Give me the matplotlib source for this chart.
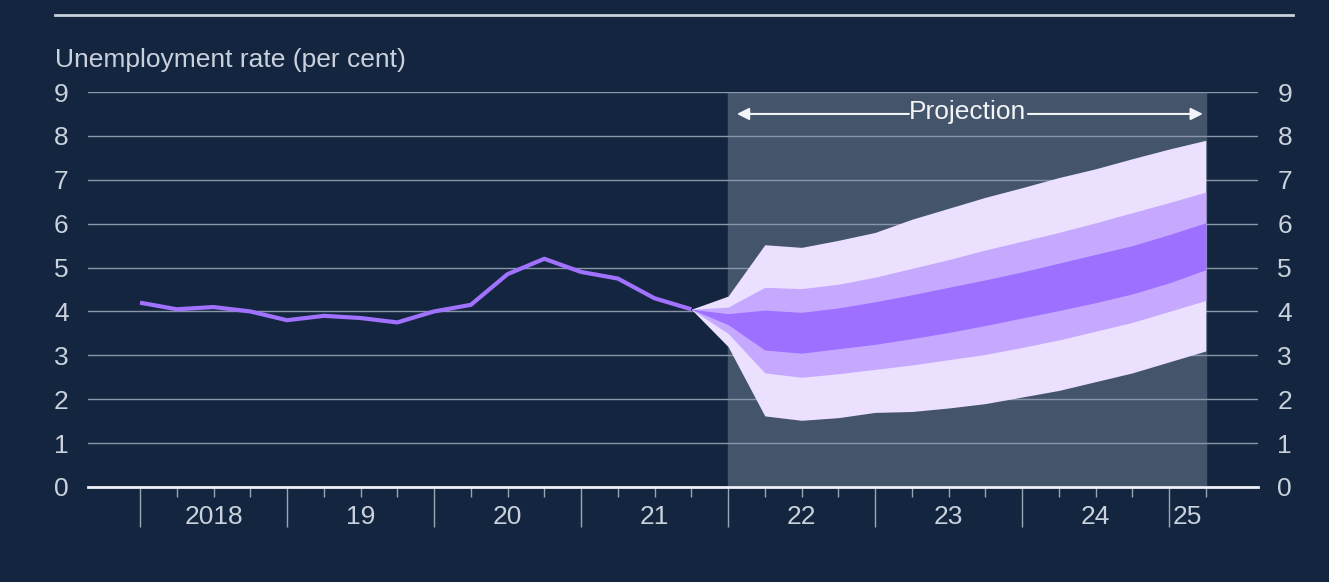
import numpy as np
import matplotlib
matplotlib.use('Agg')
import matplotlib.pyplot as plt
from matplotlib.lines import Line2D
import matplotlib.transforms as mtransforms

plt.rcParams['font.family'] = ['Liberation Sans', 'DejaVu Sans']

# datos historicos (trimestrales)
hist_x = [2018.0, 2018.25, 2018.5, 2018.75, 2019.0, 2019.25, 2019.5, 2019.75,
          2020.0, 2020.25, 2020.5, 2020.75, 2021.0, 2021.25, 2021.5, 2021.75]
hist_y = [4.2, 4.05, 4.1, 4.0, 3.8, 3.9, 3.85, 3.75,
          4.0, 4.15, 4.85, 5.2, 4.9, 4.75, 4.3, 4.05]

# abanico de proyeccion
fan_x = [2021.75, 2022.0, 2022.25, 2022.5, 2022.75, 2023.0, 2023.25, 2023.5,
         2023.75, 2024.0, 2024.25, 2024.5, 2024.75, 2025.0, 2025.25]
outer_hi = [4.05, 4.35, 5.52, 5.46, 5.62, 5.80, 6.10, 6.35, 6.60, 6.82, 7.05, 7.25, 7.48, 7.70, 7.90]
mid_hi = [4.05, 4.10, 4.55, 4.52, 4.62, 4.78, 4.98, 5.18, 5.40, 5.60, 5.80, 6.02, 6.25, 6.48, 6.72]
dark_hi = [4.05, 3.95, 4.03, 3.98, 4.08, 4.22, 4.38, 4.55, 4.72, 4.90, 5.10, 5.30, 5.50, 5.75, 6.02]
dark_lo = [4.05, 3.70, 3.12, 3.05, 3.15, 3.25, 3.38, 3.52, 3.68, 3.85, 4.02, 4.20, 4.40, 4.65, 4.95]
mid_lo = [4.05, 3.50, 2.60, 2.50, 2.58, 2.68, 2.78, 2.90, 3.02, 3.18, 3.35, 3.55, 3.75, 4.00, 4.25]
outer_lo = [4.05, 3.20, 1.62, 1.52, 1.58, 1.70, 1.72, 1.80, 1.90, 2.05, 2.20, 2.40, 2.60, 2.85, 3.10]

years = [2018, 2019, 2020, 2021, 2022, 2023, 2024, 2025]
year_labels = ['2018', '19', '20', '21', '22', '23', '24', '25']

bg = '#14253f'
txt = '#c9d1dc'
fs = 19

fig = plt.figure(figsize=(13.29, 5.82), dpi=100, facecolor=bg)
ax = fig.add_axes([88/1329, 95/582, (1258-88)/1329, (487-92)/582])
ax.set_facecolor(bg)

ax.set_xlim(2017.646, 2025.605)
ax.set_ylim(0, 9)

# zona de proyeccion
ax.axvspan(2022.0, 2025.25, color='#44546a', zorder=0)

for v in range(1, 10):
    ax.axhline(v, color='#8896a8', lw=1, zorder=1)

ax.fill_between(fan_x, outer_lo, outer_hi, color='#ebe1ff', lw=0, zorder=2)
ax.fill_between(fan_x, mid_lo, mid_hi, color='#c6a9ff', lw=0, zorder=3)
ax.fill_between(fan_x, dark_lo, dark_hi, color='#9d70ff', lw=0, zorder=4)

ax.plot(hist_x, hist_y, color='#a072ff', lw=3, zorder=5, solid_capstyle='butt')

for s in ['top', 'left', 'right']:
    ax.spines[s].set_visible(False)
ax.spines['bottom'].set_color('#eef1f5')
ax.spines['bottom'].set_linewidth(2)
ax.spines['bottom'].set_zorder(6)

ax.set_yticks(range(0, 10))
ax.tick_params(axis='y', length=0, pad=14, labelsize=fs, labelcolor=txt,
               left=False, right=False, labelleft=True, labelright=True)

major = years
minor = [y + q / 4 for y in range(2018, 2025) for q in (1, 2, 3)] + [2025.25]
ax.set_xticks(major)
ax.set_xticks(minor, minor=True)
ax.set_xticklabels([])
ax.tick_params(axis='x', which='major', length=29, width=1, color='#9aa6b6', direction='out')
ax.tick_params(axis='x', which='minor', length=7, width=1, color='#9aa6b6', direction='out')

trans = mtransforms.blended_transform_factory(ax.transData, ax.transAxes)
for y, lab in zip(years, year_labels):
    xc = y + 0.5 if y < 2025 else y + 0.125
    ax.text(xc, -30/395, lab, transform=trans, ha='center', va='center',
            fontsize=fs, color=txt)

# etiqueta de proyeccion
ax.text(2023.63, 8.55, 'Projection', ha='center', va='center', fontsize=fs,
        color='#f2f4f7', zorder=7)
ax.annotate('', xy=(2022.06, 8.5), xytext=(2023.23, 8.5),
            arrowprops=dict(arrowstyle='-|>', color='#f2f4f7', lw=1.5,
                            mutation_scale=18, shrinkA=0, shrinkB=0))
ax.annotate('', xy=(2025.23, 8.5), xytext=(2024.04, 8.5),
            arrowprops=dict(arrowstyle='-|>', color='#f2f4f7', lw=1.5,
                            mutation_scale=18, shrinkA=0, shrinkB=0))

fig.text(55/1329, 1 - 60/582, 'Unemployment rate (per cent)', ha='left', va='center',
         fontsize=fs, color=txt)
fig.add_artist(Line2D([55/1329, 1293/1329], [1 - 15/582, 1 - 15/582],
                      color='#c9d1dc', lw=2))

fig.savefig('out.png', dpi=100, facecolor=bg)
